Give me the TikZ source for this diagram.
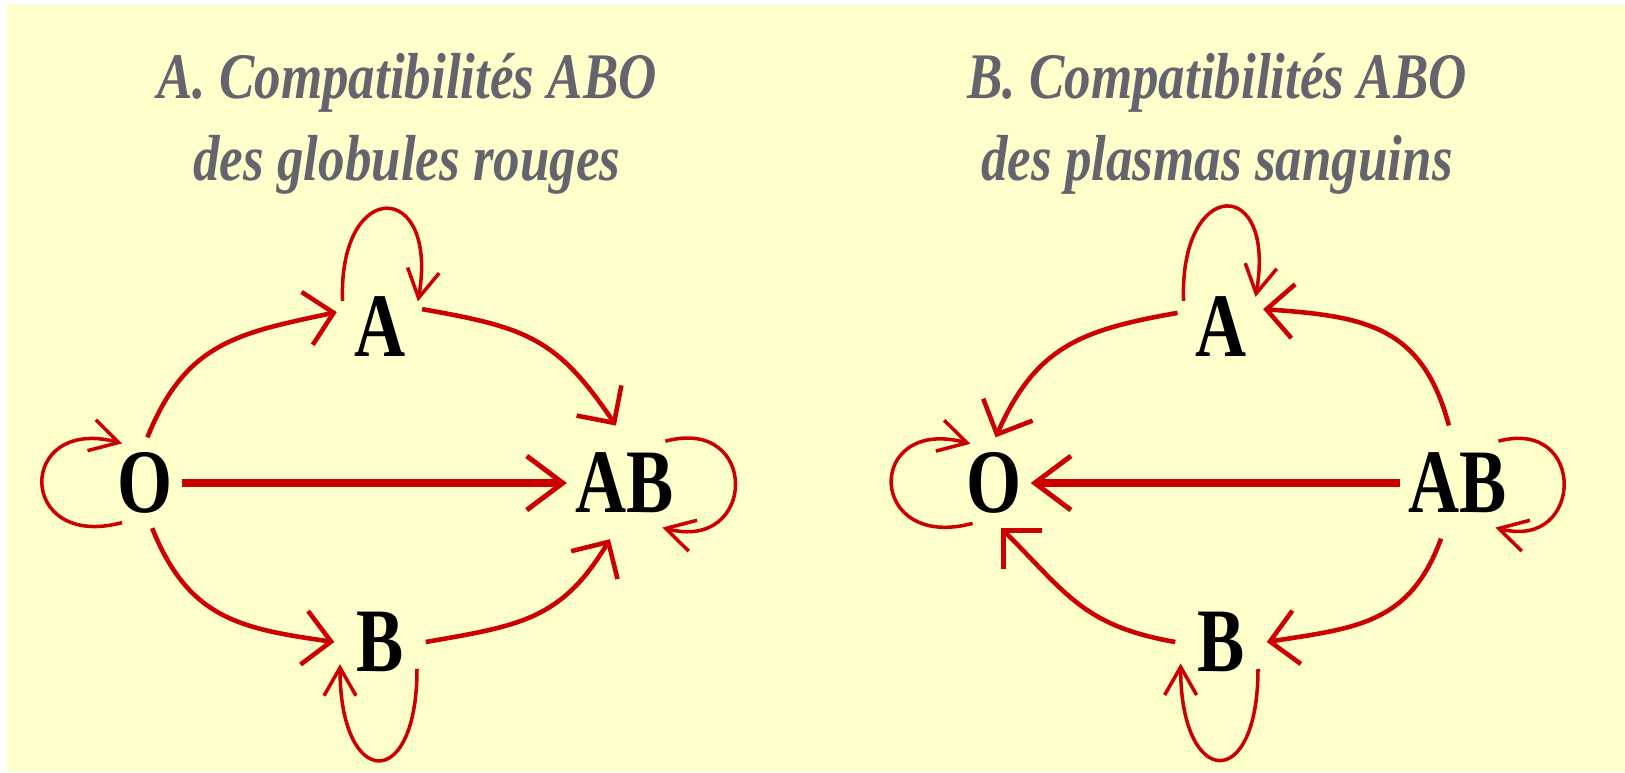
\documentclass[tikz,border=0pt]{standalone}
\usepackage{fontspec}
\usetikzlibrary{arrows.meta}
\newfontfamily\condserif[FakeStretch=0.78]{Liberation Serif}
\newfontfamily\condtitle[FakeStretch=0.815]{Liberation Serif}
\definecolor{paper}{RGB}{255,255,204}
\definecolor{bloodred}{RGB}{204,0,0}
\definecolor{titlegray}{RGB}{100,100,110}

\begin{document}
\begin{tikzpicture}[
					x=0.01cm, y=0.01cm,
					group/.style={circle, minimum size=0.9cm, inner sep=0pt, font=\condserif\bfseries\fontsize{25.8pt}{30pt}\selectfont},
					heading/.style={align=center, inner sep=0pt, text=titlegray, font=\condtitle\bfseries\itshape\fontsize{18.5pt}{23.3pt}\selectfont},
					flow/.style={-{Straight Barb[length=2.7mm, width=5.4mm]}, line width=1.3pt, draw=bloodred},
					direct/.style={-{Straight Barb[length=3.6mm, width=5.4mm, line width=1.4pt]}, line width=2.1pt, draw=bloodred},
					self/.style={-{Straight Barb[length=2.8mm, width=3.2mm]}, line width=1pt, draw=bloodred}
					]
					% page and background
					\useasboundingbox (0,0) rectangle (1625,772);
					\fill [white] (0,0) rectangle (1625,772);
					\fill [paper] (7,0) rectangle (1625,768);
					
					% A: globules rouges
					\node (titleA) [heading] at (407,648) {A. Compatibilités ABO\\des globules rouges};
					\node (lA) [group] at (380,445) {A};
					\node (lO) [group] at (145,289) {O};
					\node (lAB) [group, minimum size=1.1cm] at (625,289) {AB};
					\node (lB) [group] at (380,130) {B};
					
					\draw [flow] (lO.87) to[out=68, in=192, looseness=1.15] (lA.161);
					\draw [flow] (lA.23) to[out=-10, in=124, looseness=1.2] (lAB.99);
					\draw [direct, shorten <=-0.09cm] (lO.east) -- (lAB.west);
					\draw [flow] (lO.-81) to[out=-68, in=172, looseness=1.15] (lB.180);
					\draw [flow] (lB.0) to[out=10, in=239, looseness=1.15] (lAB.-105);
					
					\draw [self] (lA.145) .. controls +(92:124) and +(80:124) .. (lA.34);
					\draw [self] (lO.240) .. controls +(195:110) and +(165:110) .. (lO.120);
					\draw [self] (lB.-36) .. controls +(-90:125) and +(-90:125) .. (lB.-151);
					\draw [self] (lAB.46) .. controls +(15:98) and +(-15:98) .. (lAB.-50);
					
					% B: plasmas sanguins
					\node (titleB) [heading] at (1217,648) {B. Compatibilités ABO\\des plasmas sanguins};
					\node (rA) [group] at (1221,445) {A};
					\node (rO) [group] at (994,289) {O};
					\node (rAB) [group, minimum size=1.1cm] at (1458,289) {AB};
					\node (rB) [group] at (1221,130) {B};
					
					\draw [flow] (rAB.99) to[out=105, in=-4, looseness=1.2] (rA.23);
					\draw [flow] (rA.162) to[out=190, in=66, looseness=1.15] (rO.88);
					\draw [direct, shorten >=-0.09cm] (rAB.west) -- (rO.east);
					\draw [flow] (rB.180) to[out=170, in=-45, looseness=1.15] (rO.-81);
					\draw [flow] (rAB.-107) to[out=-110, in=9, looseness=1.15] (rB.0);
					
					\draw [self] (rA.145) .. controls +(92:124) and +(80:124) .. (rA.41);
					\draw [self] (rO.242) .. controls +(195:110) and +(165:110) .. (rO.121);
					\draw [self] (rB.-36) .. controls +(-90:125) and +(-90:125) .. (rB.-152);
					\draw [self] (rAB.46) .. controls +(15:92) and +(-15:92) .. (rAB.-50);
				\end{tikzpicture}
\end{document}
